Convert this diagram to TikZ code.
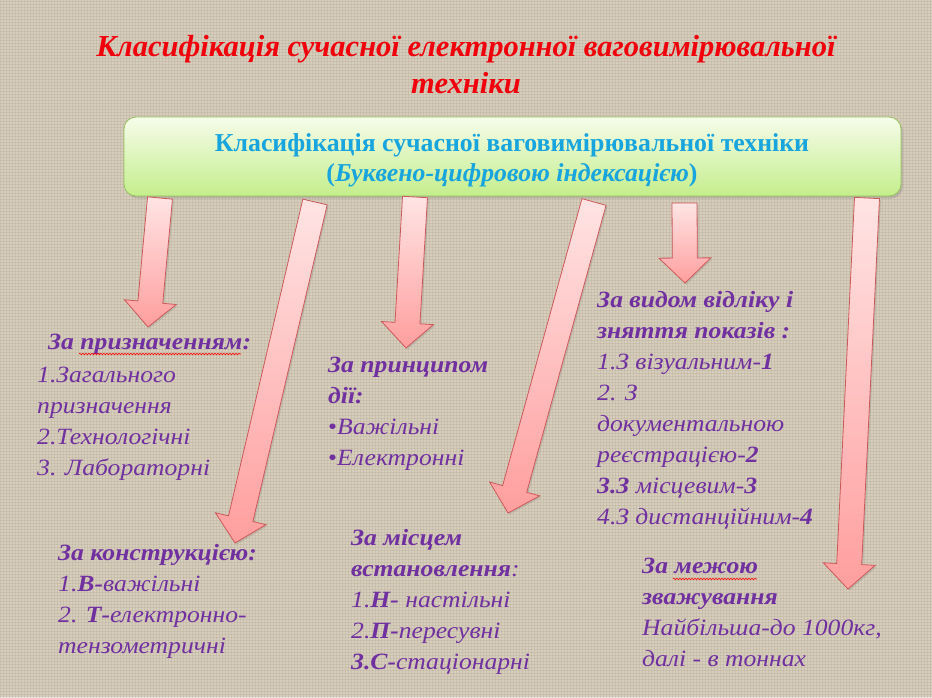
\documentclass[tikz,border=0pt]{standalone}
\usepackage{fontspec}
\setmainfont{Liberation Serif}
\newfontfamily\bodyfont[FakeStretch=1.1]{Liberation Serif}
\usetikzlibrary{calc,shadows,patterns,decorations.pathmorphing}
\definecolor{bgc}{RGB}{214,205,188}
\definecolor{bgline}{RGB}{176,164,142}
\definecolor{titlered}{RGB}{240,0,10}
\definecolor{hdrblue}{RGB}{24,165,221}
\definecolor{hdrtop}{RGB}{246,252,234}
\definecolor{hdrbot}{RGB}{196,238,140}
\definecolor{hdrline}{RGB}{150,195,90}
\definecolor{purp}{RGB}{112,48,160}
\definecolor{arrtop}{RGB}{255,228,228}
\definecolor{arrbot}{RGB}{255,158,158}
\definecolor{arrline}{RGB}{205,90,90}
\newcommand\fatarrow[3]{%
  \coordinate (#3h) at ($(#2)!25pt!(#1)$);
  \path[arrowshape] ($(#1)!12.5pt!90:(#2)$) -- ($(#3h)!12.5pt!-90:(#1)$)
    -- ($(#3h)!26pt!-90:(#1)$) -- (#2) -- ($(#3h)!26pt!90:(#1)$)
    -- ($(#3h)!12.5pt!90:(#1)$) -- ($(#1)!12.5pt!-90:(#2)$) -- cycle;
}
\newcommand\blk[1]{\begin{tabular}[t]{@{}l@{}}#1\end{tabular}}
\begin{document}
\begin{tikzpicture}[x=1pt,y=-1pt,
  arrowshape/.style={top color=arrtop, bottom color=arrbot, draw=arrline,
    line width=0.8pt, line join=miter,
    drop shadow={opacity=0.25, shadow xshift=1.5pt, shadow yshift=-1.5pt}},
  hdrbox/.style={rounded corners=12pt, top color=hdrtop, bottom color=hdrbot,
    draw=hdrline, line width=0.8pt, minimum width=777pt, minimum height=79pt,
    inner sep=0pt, drop shadow={opacity=0.3, shadow xshift=2pt, shadow yshift=-2.5pt}},
  blocktext/.style={anchor=base west, inner sep=0pt, text=purp,
    font=\bodyfont\itshape\fontsize{23.3}{31}\selectfont},
  wavy/.style={red, line width=0.6pt, decorate,
    decoration={snake, amplitude=0.8pt, segment length=3pt}}]
\useasboundingbox (0,0) rectangle (932,697);
\fill[bgc] (0,0) rectangle (932,697);
\fill[pattern=grid, pattern color=bgline, opacity=0.28] (0,0) rectangle (932,697);

% title
\node[anchor=base, inner sep=0pt, text=titlered,
  font=\bfseries\itshape\fontsize{30.5}{37}\selectfont] (title) at (466,56)
  {\begin{tabular}[t]{@{}c@{}}Класифікація сучасної електронної ваговимірювальної\\техніки\end{tabular}};

% header box
\node[hdrbox] (hdr) at (512.5,156.5) {};
\node[anchor=base, inner sep=0pt, text=hdrblue,
  font=\bfseries\fontsize{25.8}{30}\selectfont] (hdrtext) at (512,151)
  {\begin{tabular}[t]{@{}c@{}}Класифікація сучасної ваговимірювальної техніки\\(\textit{Буквено-цифровою індексацією})\end{tabular}};

% arrows
\coordinate (a1s) at (160,198);   \coordinate (a1t) at (148,327);
\coordinate (a2s) at (315,202);   \coordinate (a2t) at (235,543);
\coordinate (a3s) at (415,197);   \coordinate (a3t) at (406,348);
\coordinate (a4s) at (594,202);   \coordinate (a4t) at (508,513);
\coordinate (a5s) at (684.5,203); \coordinate (a5t) at (685,283);
\coordinate (a6s) at (867,198);   \coordinate (a6t) at (848,589);
\fatarrow{a1s}{a1t}{a1}
\fatarrow{a2s}{a2t}{a2}
\fatarrow{a3s}{a3t}{a3}
\fatarrow{a4s}{a4t}{a4}
\fatarrow{a5s}{a5t}{a5}
\fatarrow{a6s}{a6t}{a6}

% text blocks
\node[blocktext] (b1) at (37,349) {\blk{\hspace*{11pt}\textbf{За призначенням:}\\[2pt]
  1.Загального\\призначення\\2.Технологічні\\3. Лабораторні}};
\node[blocktext] (b2) at (328,372) {\blk{\textbf{За принципом}\\\textbf{дії:}\\
  \textup{•}Важільні\\\textup{•}Електронні}};
\node[blocktext] (b3) at (58,560) {\blk{\textbf{За конструкцією:}\\
  1.\textbf{В-}важільні\\2. \textbf{Т-}електронно-\\тензометричні}};
\node[blocktext] (b4) at (351,545) {\blk{\textbf{За місцем}\\\textbf{встановлення}:\\
  1.\textbf{Н-} настільні\\2.\textbf{П-}пересувні\\\textbf{3.С-}стаціонарні}};
\node[blocktext] (b5) at (597,307) {\blk{\textbf{За видом відліку і}\\\textbf{зняття показів :}\\
  1.З візуальним-\textbf{1}\\2. З\\документальною\\реєстрацією-\textbf{2}\\
  \textbf{3.З} місцевим-\textbf{3}\\4.З дистанційним-\textbf{4}}};
\node[blocktext] (b6) at (642,573) {\blk{\textbf{За межою}\\\textbf{зважування}\\
  Найбільша-до 1000кг,\\далі - в тоннах}};

% spell-check squiggles
\draw[wavy] (79,354) -- (241,354);
\draw[wavy] (673,579) -- (757,579);
\end{tikzpicture}
\end{document}
